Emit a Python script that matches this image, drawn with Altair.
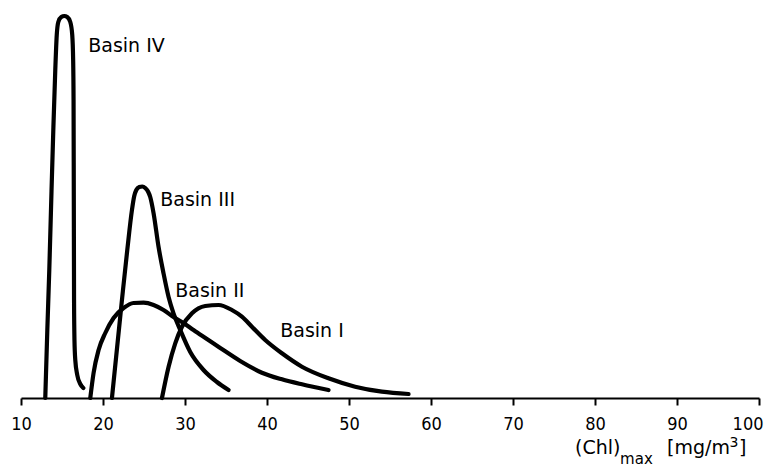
import altair as alt
import pandas as pd

# Curve traces: x in mg/m^3, y = relative frequency (arbitrary units)
basin4_x = [12.96, 13.21, 13.45, 13.69, 13.94, 14.18, 14.36, 14.55, 14.91, 15.28, 15.64, 16.01, 16.25, 16.36, 16.41, 16.44, 16.47, 16.52, 16.62, 16.86, 17.23, 17.60]
basin4_y = [0, 68, 128, 198, 268, 328, 363, 376, 381, 382, 381, 376, 363, 338, 298, 198, 98, 58, 38, 23, 14, 10]

basin3_x = [21.09, 22.31, 22.96, 23.53, 23.81, 24.06, 24.42, 24.79, 25.15, 25.52, 25.76, 26.17, 26.77, 27.38, 27.99, 28.60, 29.42, 30.64, 32.26, 33.89, 35.31]
basin3_y = [0, 98, 148, 188, 202, 208, 211, 211.5, 210, 206, 201, 184.7, 151.3, 124.7, 101.3, 84.7, 68, 46, 28, 16, 8]

basin2_x = [18.45, 18.85, 19.46, 20.28, 21.29, 22.51, 23.73, 24.95, 26.17, 27.38, 28.60, 29.82, 31.04, 32.67, 34.30, 36.73, 39.38, 41.82, 44.26, 47.50]
basin2_y = [0, 25, 48, 65, 80, 90, 95, 95.3, 93, 88, 81, 75, 68, 59, 50, 37, 25.3, 18.7, 13.7, 8]

basin1_x = [27.19, 28.00, 28.81, 29.63, 30.85, 32.47, 34.10, 35.72, 36.94, 38.16, 39.78, 41.82, 44.26, 47.50, 50.75, 54.01, 57.26]
basin1_y = [0, 31.3, 54.7, 71.3, 84.7, 92, 93, 88, 81.3, 71.3, 58, 44.7, 31.3, 19.7, 11.3, 6.3, 4]

label_text = ["Basin IV", "Basin III", "Basin II", "Basin I"]
label_x = [18.2, 26.98, 28.81, 41.61]
label_y = [352.5, 198.5, 107.5, 67.5]

x_ticks = [10, 20, 30, 40, 50, 60, 70, 80, 90, 100]

title_main_text = ["(Chl)", "[mg/m", "]"]
title_main_x = [77.57, 88.79, 97.55]
title_sub_text = ["max"]
title_sub_x = [83.06]
title_sup_text = ["3"]
title_sup_x = [96.4]

rows = []
for name, xs, ys in [("Basin IV", basin4_x, basin4_y), ("Basin III", basin3_x, basin3_y),
                     ("Basin II", basin2_x, basin2_y), ("Basin I", basin1_x, basin1_y)]:
    for i, (a, b) in enumerate(zip(xs, ys)):
        rows.append({"series": name, "i": i, "x": a, "y": b})
curves = pd.DataFrame(rows)

xscale = alt.Scale(domain=[10, 100], nice=False, zero=False)
yscale = alt.Scale(domain=[0, 390], nice=False, zero=False)
FONT = "DejaVu Sans"
TICKFONT = "Liberation Sans Narrow, DejaVu Sans Condensed, Roboto Condensed, DejaVu Sans"

lines = alt.Chart(curves).mark_line(
    color="black", strokeWidth=4.2, strokeCap="round", strokeJoin="round",
    interpolate="monotone", clip=False
).encode(
    x=alt.X("x:Q", scale=xscale, axis=alt.Axis(
        values=x_ticks, title=None, grid=False, labelFontSize=18, labelFont=TICKFONT,
        labelColor="black", tickSize=7, tickWidth=2, tickColor="black",
        domainWidth=2, domainColor="black", labelPadding=10, labelFlush=False,
        labelAlign={"condition": {"test": "datum.value == 100", "value": "right"}, "value": "center"},
        labelOffset={"condition": {"test": "datum.value == 100", "value": 4}, "value": 0})),
    y=alt.Y("y:Q", scale=yscale, axis=None),
    detail="series:N",
    order="i:Q",
)

labels_df = pd.DataFrame({"t": label_text, "x": label_x, "y": label_y})
labels = alt.Chart(labels_df).mark_text(
    align="left", baseline="middle", fontSize=19, font=FONT, color="black"
).encode(x=alt.X("x:Q", scale=xscale), y=alt.Y("y:Q", scale=yscale), text="t:N")

t_main = alt.Chart(pd.DataFrame({"t": title_main_text, "x": title_main_x, "y": [-50] * 3})).mark_text(
    align="left", baseline="middle", fontSize=19, font=FONT, color="black"
).encode(x=alt.X("x:Q", scale=xscale), y=alt.Y("y:Q", scale=yscale), text="t:N")

t_sub = alt.Chart(pd.DataFrame({"t": title_sub_text, "x": title_sub_x, "y": [-61]})).mark_text(
    align="left", baseline="middle", fontSize=15, font=FONT, color="black"
).encode(x=alt.X("x:Q", scale=xscale), y=alt.Y("y:Q", scale=yscale), text="t:N")

t_sup = alt.Chart(pd.DataFrame({"t": title_sup_text, "x": title_sup_x, "y": [-45]})).mark_text(
    align="left", baseline="middle", fontSize=14, font=FONT, color="black"
).encode(x=alt.X("x:Q", scale=xscale), y=alt.Y("y:Q", scale=yscale), text="t:N")

chart = alt.layer(lines, labels, t_main, t_sub, t_sup).properties(
    width=738, height=390,
    autosize=alt.AutoSizeParams(type="none"),
    padding={"left": 13, "top": 0, "right": 11, "bottom": 69},
    background="white",
).configure_view(stroke=None)

chart.save("out.html", embed_options={"renderer": "svg", "actions": False})
